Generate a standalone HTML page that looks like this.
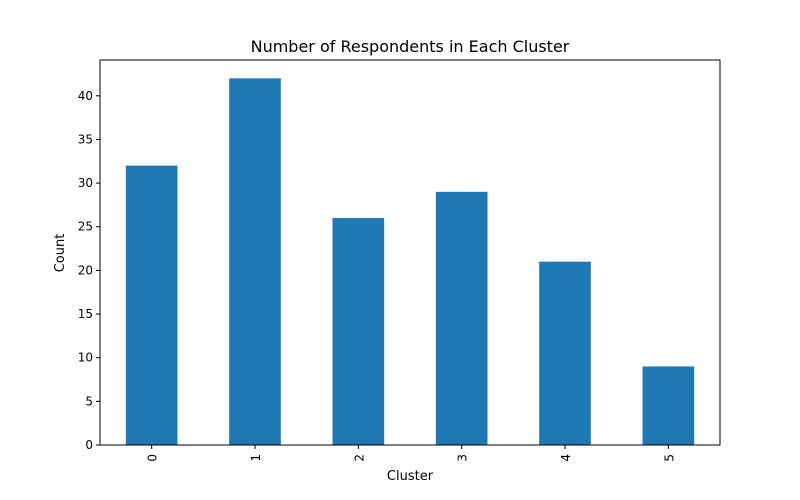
<!DOCTYPE html>
<html><head><meta charset="utf-8"><style>body{margin:0;background:#fff}svg{display:block;font-family:"DejaVu Sans","Liberation Sans",sans-serif}</style></head>
<body>
<svg id="chart" width="800" height="500">
<rect x="0" y="0" width="800" height="500" fill="#fff"/>
<text x="410" y="52" text-anchor="middle" font-size="16">Number of Respondents in Each Cluster</text>
<text x="410" y="480" text-anchor="middle" font-size="13">Cluster</text>
<text x="0" y="0" transform="translate(64,253) rotate(-90)" text-anchor="middle" font-size="13">Count</text>
<g id="marks"></g>
<rect x="100" y="60" width="620" height="385" fill="none" stroke="#000" stroke-width="1"/>
</svg>
<script>
const categories = ["0","1","2","3","4","5"];
const counts = [32, 42, 26, 29, 21, 9];
const yTicks = [0,5,10,15,20,25,30,35,40];
const L=100,R=720,T=60,B=445;
const yMax = Math.max(...counts)*1.05;
const y = v => B - v/yMax*(B-T);
const step = (R-L)/categories.length;
const x = i => L + step*(i+0.5);
const ns="http://www.w3.org/2000/svg";
const g=document.getElementById('marks');
function mk(tag,attrs){const e=document.createElementNS(ns,tag);for(const k in attrs)e.setAttribute(k,attrs[k]);g.appendChild(e);return e;}
counts.forEach((v,i)=>{
  const bw=step*0.5;
  const r=mk('rect',{x:x(i)-bw/2,y:y(v),width:bw,height:B-y(v),fill:'#1f77b4'});
  
  
  const t=mk('line',{x1:x(i),x2:x(i),y1:B,y2:B+4,stroke:'#000'});
  
  
  const lb=mk('text',{transform:`translate(${x(i)+5},${B+9}) rotate(-90)`,'text-anchor':'end','font-size':12});
  lb.textContent=categories[i];
  
  
});
yTicks.forEach(v=>{
  const t=mk('line',{x1:L-4,x2:L,y1:y(v),y2:y(v),stroke:'#000'});
  
  
  const lb=mk('text',{x:L-7,y:y(v)+4,'text-anchor':'end','font-size':12});
  lb.textContent=v;
  
  
});
</script>
</body></html>
